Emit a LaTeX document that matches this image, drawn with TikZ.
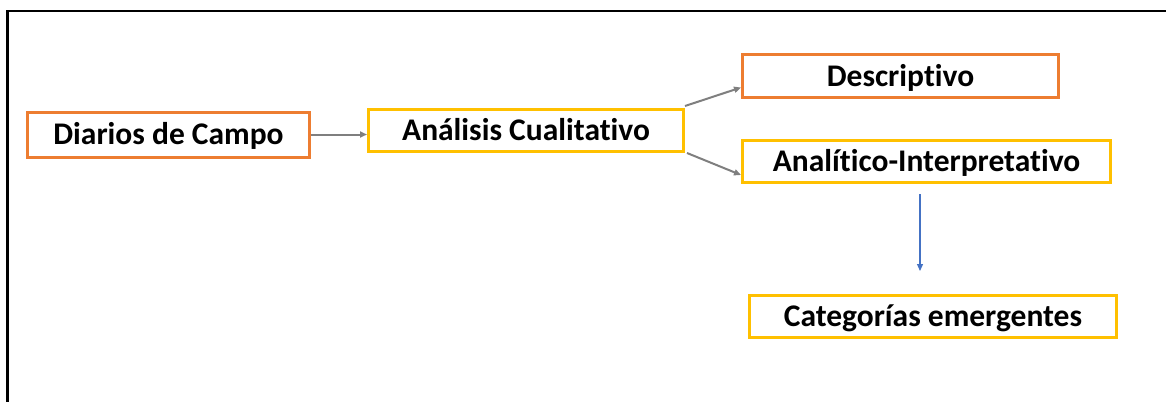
\documentclass[tikz,border=0pt]{standalone}
\usepackage{fontspec}
\setmainfont{Carlito}[Ligatures=NoCommon]
\usetikzlibrary{arrows.meta,calc}
\definecolor{orgC}{HTML}{ED7D31}
\definecolor{yelC}{HTML}{FFC000}
\definecolor{grayC}{HTML}{7F7F7F}
\definecolor{blueC}{HTML}{4472C4}
\tikzset{
  boxbase/.style={rectangle, line width=3pt, inner sep=0pt, font=\fontsize{31.5}{36}\selectfont\bfseries, text height=20.3pt, text depth=0pt},
  orgbox/.style={boxbase, draw=orgC},
  yelbox/.style={boxbase, draw=yelC},
  grayarrow/.style={draw=grayC, line width=2pt, -{Triangle[length=7pt,width=6pt]}},
  bluearrow/.style={draw=blueC, line width=1.2pt, -{Triangle[length=7pt,width=6pt]}},
  frameline/.style={line width=2.5pt, black}
}
\begin{document}
\begin{tikzpicture}[x=1pt,y=-1pt]
\useasboundingbox (0,0) rectangle (1166,402);
\draw[frameline] (1166,11) -- (7.5,11) -- (7.5,402);
\node[orgbox, minimum width=282pt, minimum height=45pt] (dc) at (168.5,134.5) {Diarios de Campo};
\node[yelbox, minimum width=315pt, minimum height=42pt] (ac) at (526,130.5) {Análisis Cualitativo};
\node[orgbox, minimum width=316pt, minimum height=43pt] (de) at (900.5,76) {Descriptivo};
\node[yelbox, minimum width=368pt, minimum height=42pt] (an) at (926.5,161.5) {Analítico-Interpretativo};
\node[yelbox, minimum width=367pt, minimum height=42pt] (ce) at (933,316.5) {Categorías emergentes};
\draw[grayarrow] (dc.east) -- (dc.east -| ac.west);
\draw[grayarrow] ([yshift=2pt]ac.north east) -- ($(de.south west)!0.5!(de.west)$);
\draw[grayarrow] ([xshift=2pt,yshift=0pt]ac.south east) -- ($(an.south west)!0.4!(an.west)$);
\draw[bluearrow] ([xshift=-6.5pt,yshift=-10pt]an.south) -- ([xshift=-13pt,yshift=23pt]ce.north);
\end{tikzpicture}
\end{document}
